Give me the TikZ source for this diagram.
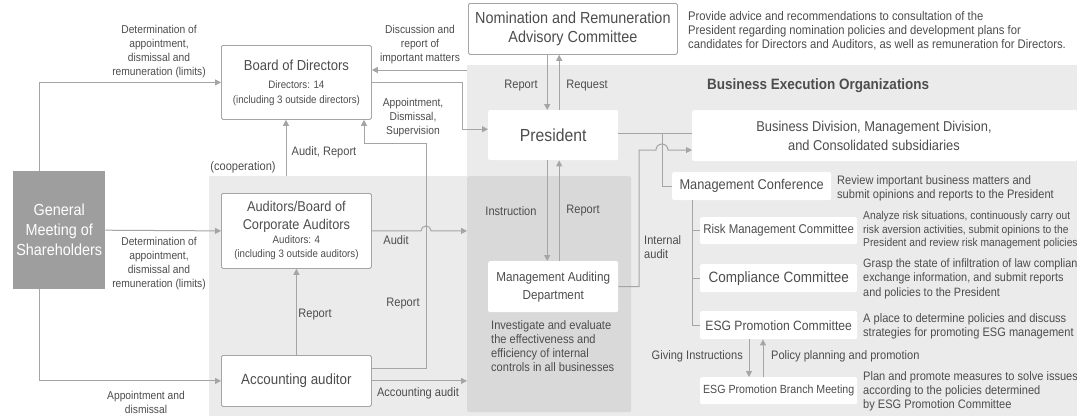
\documentclass[tikz,border=0pt]{standalone}
\usepackage{fontspec}
\setmainfont{Liberation Sans}[FakeStretch=0.9]
\usetikzlibrary{arrows.meta}
\definecolor{bglt}{HTML}{EBEBEB}
\definecolor{bgdk}{HTML}{D9D9D9}
\definecolor{lncol}{HTML}{A5A5A5}
\definecolor{txcol}{HTML}{4D4D4D}
\definecolor{gmscol}{HTML}{9E9E9E}
\newcommand\fsz[2]{\fontsize{#1}{#2}\selectfont}
\tikzset{
 region/.style={inner sep=0pt, anchor=north west},
 obox/.style={draw=lncol, fill=white, rounded corners=1.5pt, line width=0.8pt, inner sep=0pt, anchor=north west, align=center, text=txcol},
 wbox/.style={fill=white, rounded corners=1.5pt, inner sep=0pt, anchor=north west, align=center, text=txcol},
 lbl/.style={inner sep=0pt, text=txcol, align=center, font=\fsz{12.3}{14}},
 slbl/.style={inner sep=0pt, text=txcol, align=center, font=\fsz{11.4}{14}},
 desc/.style={inner sep=0pt, text=txcol, align=left, anchor=west, font=\fsz{12.3}{14}},
 conn/.style={draw=lncol, line width=1pt},
 arr/.style={conn, -{Triangle[length=6pt,width=6pt]}},
}
\begin{document}
\begin{tikzpicture}[x=1pt,y=-1pt]
\useasboundingbox (0,0) rectangle (1077,416);
\clip (0,0) rectangle (1077,416);
\fill[white] (0,0) rectangle (1077,416);
% background regions
\node[region, fill=bglt, minimum width=610pt, minimum height=351pt] (beo) at (467,65) {};
\node[region, fill=bglt, minimum width=258pt, minimum height=240pt] (agrp) at (209,176) {};
\node[region, fill=bgdk, rounded corners=2pt, minimum width=164pt, minimum height=236pt] (madr) at (467,176) {};
\node[inner sep=0pt, text=txcol, font=\bfseries\fsz{15}{17}, anchor=west] (beot) at (707,86) {Business Execution Organizations};
% boxes
\node[region, fill=gmscol, text=white, align=center, minimum width=92pt, minimum height=118pt, font=\fsz{16}{20}] (gms) at (13,171) {General\\Meeting of\\Shareholders};
\node[obox, minimum width=150pt, minimum height=74pt, font=\fsz{10.8}{15}] (bod) at (221,45) {{\fsz{14.5}{18}Board of Directors}\\[3pt]Directors: 14\\(including 3 outside directors)};
\node[obox, minimum width=209pt, minimum height=51pt, font=\fsz{16}{19}] (nom) at (468,3) {Nomination and Remuneration\\Advisory Committee};
\node[wbox, minimum width=130pt, minimum height=50pt, font=\fsz{17.5}{20}] (pres) at (488,110) {President};
\node[wbox, minimum width=385pt, minimum height=51pt] (bus) at (692,110) {};
\node[lbl, font=\fsz{14.3}{19}] (bust) at (874,136) {Business Division, Management Division,\\and Consolidated subsidiaries};
\node[wbox, minimum width=159pt, minimum height=28pt, font=\fsz{14.2}{16}] (mc) at (672,172) {Management Conference};
\node[wbox, minimum width=157pt, minimum height=27pt, font=\fsz{12.7}{15}] (risk) at (700,217) {Risk Management Committee};
\node[wbox, minimum width=157pt, minimum height=28pt, font=\fsz{15}{17}] (comp) at (700,264) {Compliance Committee};
\node[wbox, minimum width=157pt, minimum height=28pt, font=\fsz{13.5}{16}] (esg) at (700,311) {ESG Promotion Committee};
\node[wbox, minimum width=157pt, minimum height=27pt, font=\fsz{11.8}{14}] (branch) at (700,377) {ESG Promotion Branch Meeting};
\node[wbox, minimum width=130pt, minimum height=51pt, font=\fsz{13}{18}] (mad) at (488,261) {Management Auditing\\Department};
\node[obox, minimum width=150pt, minimum height=75pt, font=\fsz{10.8}{14}] (aud) at (221,193) {{\fsz{14.2}{18}Auditors/Board of}\\[4pt]{\fsz{14.2}{18}Corporate Auditors}\\Auditors: 4\\(including 3 outside auditors)};
\node[obox, minimum width=150pt, minimum height=51pt, font=\fsz{14.8}{18}] (acc) at (221,355) {Accounting auditor};
% descriptions
\node[desc, font=\fsz{12.5}{14}] (nomd) at (688,31) {Provide advice and recommendations to consultation of the\\President regarding nomination policies and development plans for\\candidates for Directors and Auditors, as well as remuneration for Directors.};
\node[desc, font=\fsz{12.3}{13.5}] (mcd) at (837,188.5) {Review important business matters and\\submit opinions and reports to the President};
\node[desc, font=\fsz{11.4}{13.5}] (riskd) at (863,230.5) {Analyze risk situations, continuously carry out\\risk aversion activities, submit opinions to the\\President and review risk management policies};
\node[desc, font=\fsz{12.1}{14.5}] (compd) at (863,278.5) {Grasp the state of infiltration of law compliance,\\exchange information, and submit reports\\and policies to the President};
\node[desc] (esgd) at (863,326) {A place to determine policies and discuss\\strategies for promoting ESG management};
\node[desc] (brd) at (863,391) {Plan and promote measures to solve issues\\according to the policies determined\\by ESG Promotion Committee};
\node[desc] (madd) at (491,346) {Investigate and evaluate\\the effectiveness and\\efficiency of internal\\controls in all businesses};
% labels
\node[slbl] (l1) at (159,52) {Determination of\\appointment,\\dismissal and\\remuneration (limits)};
\node[slbl] (l2) at (159,264) {Determination of\\appointment,\\dismissal and\\remuneration (limits)};
\node[slbl] (l3) at (146,402) {Appointment and\\dismissal};
\node[slbl] (l4) at (420,45) {Discussion and\\report of\\important matters};
\node[slbl] (l5) at (413,118) {Appointment,\\Dismissal,\\Supervision};
\node[lbl] (l6a) at (521,86) {Report};
\node[lbl] (l6b) at (587,86) {Request};
\node[lbl] (l7) at (324,152) {Audit, Report};
\node[lbl] (l8) at (243,167) {(cooperation)};
\node[lbl] (l9) at (396,240) {Audit};
\node[lbl] (l10a) at (511,211) {Instruction};
\node[lbl] (l10b) at (583,211) {Report};
\node[lbl, align=left, anchor=west] (l11) at (644,247) {Internal\\audit};
\node[lbl] (l12) at (315,315) {Report};
\node[lbl] (l13) at (403,304) {Report};
\node[lbl] (l14) at (418,393) {Accounting audit};
\node[lbl, anchor=east] (l15a) at (743,356) {Giving Instructions};
\node[lbl, anchor=west] (l15b) at (771,356) {Policy planning and promotion};
% connectors
\draw[arr] ([xshift=26pt]gms.north west) |- (bod.west);
\draw[arr] (gms.east) -- (aud.west);
\draw[arr] ([xshift=26pt]gms.south west) |- (acc.west);
\coordinate (arx) at (286,176);
\draw[arr] (arx) -- (arx |- bod.south);
\draw[arr] (acc.north) -- (aud.south);
\coordinate (rp1) at (426,143);
\coordinate (rp2) at (364,143);
\draw[arr] ([yshift=12.5pt]acc.east) -| (rp1) -- (rp2) -- (rp2 |- bod.south);
\draw[arr] (aud.east) -- ([xshift=-5pt]aud.east -| rp1) arc[start angle=180,end angle=0,radius=5pt] -- (madr.west |- aud.east);
\draw[arr] (acc.east) -- (madr.west |- acc.east);
\draw[arr] (bod.east) -| ([xshift=-26pt,yshift=6pt]pres.west) -- ([yshift=6pt]pres.west);
\draw[arr] ([yshift=-5pt]beo.north west) -- ([yshift=-5pt]beo.north west -| bod.east);
\draw[arr] ([xshift=-6pt]pres.north |- nom.south) -- ([xshift=-6pt]pres.north);
\draw[arr] ([xshift=6pt]pres.north) -- ([xshift=6pt]pres.north |- nom.south);
\draw[arr] ([xshift=-6pt]pres.south) -- ([xshift=-6pt]mad.north);
\draw[arr] ([xshift=6pt]mad.north) -- ([xshift=6pt]pres.south);
\draw[conn] ([yshift=2pt]pres.east) -- ([yshift=2pt]pres.east -| bus.west);
\coordinate (jn) at (662,133);
\draw[conn] (jn) |- (mc.west);
\coordinate (ia) at (639,150);
\draw[arr] (mad.east) -| (ia) -- ([xshift=-6pt]jn |- ia) arc[start angle=180,end angle=0,radius=6pt] -- (bus.west |- ia);
\coordinate (tr) at ([xshift=20pt]mc.south west);
\draw[conn] (tr) |- (esg.west);
\draw[conn] (tr |- risk.west) -- (risk.west);
\draw[conn] (tr |- comp.west) -- (comp.west);
\draw[arr] ([xshift=49pt]esg.south west) -- ([xshift=49pt]esg.south west |- branch.north);
\draw[arr] ([xshift=63pt]branch.north west) -- ([xshift=63pt]branch.north west |- esg.south);
\end{tikzpicture}
\end{document}
